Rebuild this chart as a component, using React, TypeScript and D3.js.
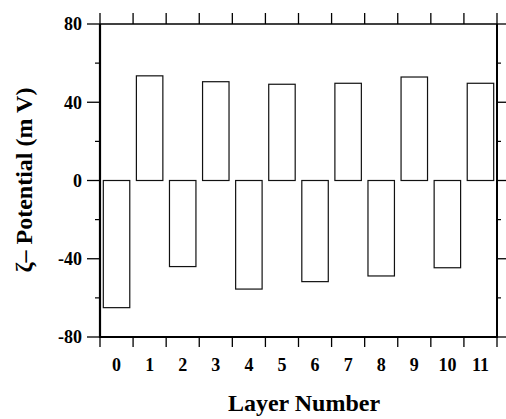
import React from "react";
import * as d3 from "d3";

const layers = [0, 1, 2, 3, 4, 5, 6, 7, 8, 9, 10, 11];
const zeta = [-65, 53.5, -44, 50.5, -55.5, 49.2, -51.7, 49.7, -48.8, 52.9, -44.6, 49.7];
const yMajor = [-80, -40, 0, 40, 80];
const yMinor = [-60, -20, 20, 60];

const W = 506, H = 419;
const left = 100, right = 497, top = 24, bottom = 337;

export default function App() {
  const x = d3.scaleLinear().domain([-0.5, 11.5]).range([left, right]);
  const y = d3.scaleLinear().domain([-80, 80]).range([bottom, top]);
  const bw = (x(1) - x(0)) * 0.8;
  const boundaries = d3.range(-0.5, 12, 1);
  const font = "'Liberation Serif', 'Times New Roman', serif";
  return (
    <svg width={W} height={H} style={{ position: "absolute", left: 0, top: 0, background: "#fff" }}>
      {/* bars */}
      {zeta.map((v, i) => (
        <rect key={i} x={x(layers[i]) - bw / 2} width={bw}
          y={Math.min(y(v), y(0))} height={Math.abs(y(v) - y(0))}
          fill="none" stroke="#111" strokeWidth={1.2} />
      ))}
      {/* frame */}
      <line x1={left} x2={left} y1={top} y2={bottom + 1} stroke="#000" strokeWidth={2.2} />
      <line x1={right} x2={right} y1={top} y2={bottom + 1} stroke="#000" strokeWidth={2} />
      <line x1={left} x2={right} y1={bottom} y2={bottom} stroke="#000" strokeWidth={2} />
      <line x1={left} x2={right} y1={top} y2={top} stroke="#000" strokeWidth={1.5} />
      {/* x ticks */}
      {boundaries.map((b, i) => (
        <g key={i}>
          <line x1={x(b)} x2={x(b)} y1={bottom} y2={bottom + 10} stroke="#000" strokeWidth={1.3} />
          <line x1={x(b)} x2={x(b)} y1={top} y2={top - 11} stroke="#000" strokeWidth={1.3} />
        </g>
      ))}
      {/* y ticks */}
      {yMajor.map((t) => (
        <g key={t}>
          <line x1={left - 13} x2={left} y1={y(t)} y2={y(t)} stroke="#000" strokeWidth={1.3} />
          <line x1={right} x2={right + 9} y1={y(t)} y2={y(t)} stroke="#000" strokeWidth={1.3} />
          <text x={82} y={y(t)} dy="0.35em" textAnchor="end" fontFamily={font}
            fontWeight="bold" fontSize={18}>{t}</text>
        </g>
      ))}
      {yMinor.map((t) => (
        <g key={t}>
          <line x1={left - 5} x2={left} y1={y(t)} y2={y(t)} stroke="#000" strokeWidth={1.2} />
          <line x1={right} x2={right + 4} y1={y(t)} y2={y(t)} stroke="#000" strokeWidth={1.2} />
        </g>
      ))}
      {/* x labels */}
      {layers.map((l) => (
        <text key={l} x={x(l)} y={371} textAnchor="middle" fontFamily={font}
          fontWeight="bold" fontSize={18}>{l}</text>
      ))}
      <text x={304} y={411} textAnchor="middle" fontFamily={font} fontWeight="bold" fontSize={24}>Layer Number</text>
      <text transform={`translate(32, 180) rotate(-90)`} textAnchor="middle"
        fontFamily={font} fontWeight="bold" fontSize={24}>ζ– Potential (m V)</text>
    </svg>
  );
}
